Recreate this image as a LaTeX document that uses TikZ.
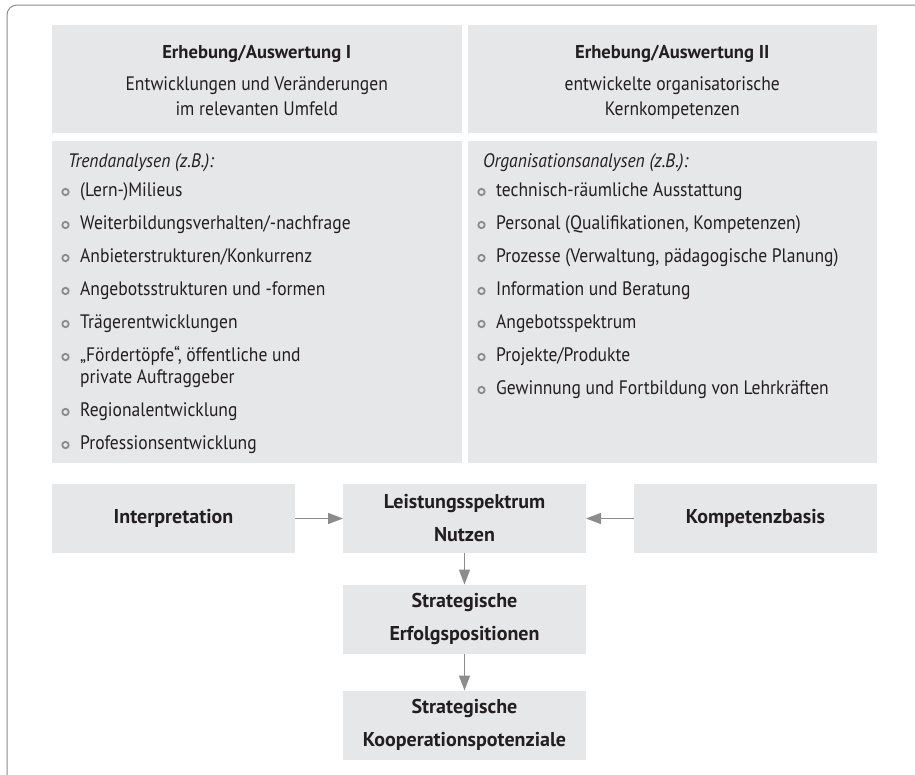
\documentclass[tikz,border=0pt]{standalone}
\usepackage{fontspec}
\setmainfont{PT Sans}[FakeStretch=0.9, BoldFeatures={FakeStretch=1}]
\usetikzlibrary{arrows.meta}
\definecolor{boxgray}{HTML}{E6E7E8}
\definecolor{txt}{HTML}{231F20}
\definecolor{lines}{HTML}{8C8C8C}
\newcommand{\itemfont}{\fontsize{19.5}{24}\selectfont}
\newcommand{\bul}[4]{\filldraw[bulletring] (#1,#2) circle (3.2pt); \node[itemtext] (#3) at (#1+14.5,#2+4.5) {#4};}
\tikzset{
  greybox/.style={fill=boxgray, inner sep=0pt, outer sep=0pt, text=txt, align=center},
  headbox/.style={greybox, minimum width=409.5pt, minimum height=108pt},
  listbox/.style={greybox, minimum width=409.5pt, minimum height=322pt},
  stepbox/.style={greybox, minimum width=243pt, minimum height=69pt, font=\fontsize{20}{33}\selectfont\bfseries},
  headtext/.style={anchor=base, inner sep=0pt, text=txt, font=\itemfont},
  itemtext/.style={anchor=base west, inner sep=0pt, text=txt, font=\itemfont},
  bulletring/.style={draw=lines, fill=boxgray, line width=1.8pt},
  arr/.style={draw=lines, line width=1.5pt, -{Triangle[length=15pt, width=11pt]}}
}

\begin{document}
\begin{tikzpicture}[x=1pt, y=-1pt]
  \useasboundingbox (0,0) rectangle (915,774);
  % frame
  \draw[lines, line width=1pt, rounded corners=10pt] (7,776) -- (7,5) -- (917,5);

  % header
  \node[headbox] (headL) at (256.75,79) {};
  \node[headbox] (headR) at (672.25,79) {};
  \node[headtext, font=\fontsize{18.6}{24}\selectfont\bfseries] (titleL) at (256.75,58) {Erhebung/Auswertung I};
  \node[headtext] (umfeldA) at (256.75,90) {Entwicklungen und Veränderungen};
  \node[headtext] (umfeldB) at (256.75,115) {im relevanten Umfeld};
  \node[headtext, font=\fontsize{18.6}{24}\selectfont\bfseries] (titleR) at (672.25,58) {Erhebung/Auswertung II};
  \node[headtext] (kernA) at (672.25,90) {entwickelte organisatorische};
  \node[headtext] (kernB) at (672.25,115) {Kernkompetenzen};

  % lists
  \node[listbox] (listL) at (256.75,302) {};
  \node[listbox] (listR) at (672.25,302) {};
  \node[itemtext] (trend) at (68,167) {\itshape Trendanalysen (z.B.):};
  \node[itemtext] (orga) at (483,167) {\itshape Organisationsanalysen (z.B.):};

  \bul{65.5}{192}{milieus}{(Lern-)Milieus}
  \bul{65.5}{225}{nachfrage}{Weiterbildungsverhalten/-nachfrage}
  \bul{65.5}{258}{anbieter}{Anbieterstrukturen/Konkurrenz}
  \bul{65.5}{291}{formen}{Angebotsstrukturen und -formen}
  \bul{65.5}{324}{traeger}{Trägerentwicklungen}
  \bul{65.5}{357}{foerder}{„Fördertöpfe“, öffentliche und}
  \node[itemtext] (auftrag) at (80,383.5) {private Auftraggeber};
  \bul{65.5}{412}{region}{Regionalentwicklung}
  \bul{65.5}{445}{profession}{Professionsentwicklung}

  \bul{481.5}{192}{ausstattung}{technisch-räumliche Ausstattung}
  \bul{481.5}{225}{personal}{Personal (Qualifikationen, Kompetenzen)}
  \bul{481.5}{258}{prozesse}{Prozesse (Verwaltung, pädagogische Planung)}
  \bul{481.5}{291}{beratung}{Information und Beratung}
  \bul{481.5}{324}{spektrum}{Angebotsspektrum}
  \bul{481.5}{357}{produkte}{Projekte/Produkte}
  \bul{481.5}{390}{lehrkraefte}{Gewinnung und Fortbildung von Lehrkräften}

  % bottom row
  \node[stepbox] (interp) at (173.5,518.5) {Interpretation};
  \node[stepbox] (leistung) at (464.5,518.5) {Leistungsspektrum\\Nutzen};
  \node[stepbox] (kompetenz) at (755.5,518.5) {Kompetenzbasis};
  \node[stepbox] (erfolg) at (464.5,619) {Strategische\\Erfolgspositionen};
  \node[stepbox] (koop) at (464.5,725) {Strategische\\Kooperationspotenziale};

  \draw[arr] (interp) -- (leistung);
  \draw[arr] (kompetenz) -- (leistung);
  \draw[arr] (leistung) -- (erfolg);
  \draw[arr] (erfolg) -- (koop);
\end{tikzpicture}
\end{document}
